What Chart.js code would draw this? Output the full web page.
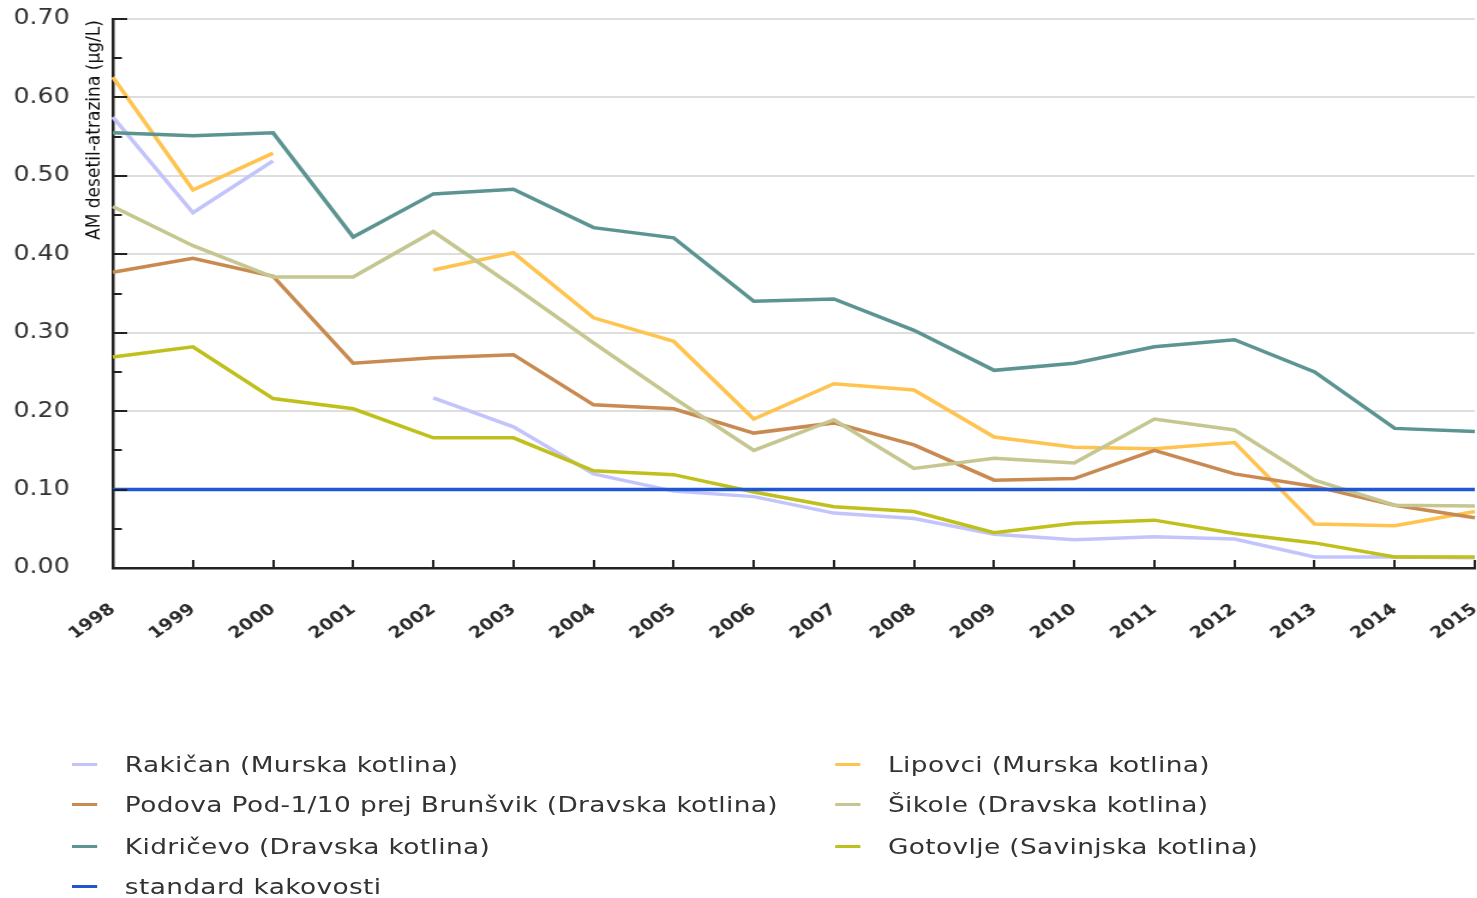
<!DOCTYPE html>
<html>
<head>
<meta charset="utf-8">
<script src="https://cdn.jsdelivr.net/npm/chart.js@4/dist/chart.umd.min.js"></script>
<style>
  html, body { margin: 0; padding: 0; background: #fff; overflow: hidden; }
  /* the source picture is stretched sideways, so the whole chart is drawn narrow and widened */
  #wrap { position: relative; width: 1231px; height: 898px; transform: scaleX(1.2); transform-origin: 0 0; }
  #chart { position: absolute; left: 0; top: 0; }
  #legend { position: absolute; left: 0; top: 0; width: 1231px; height: 898px;
            font-family: "DejaVu Sans", sans-serif; font-size: 22px; letter-spacing: 0.3px; color: #333; }
  .item { position: absolute; height: 30px; line-height: 30px; white-space: nowrap; }
  .mark { position: absolute; top: 13px; width: 21px; height: 3px; }
</style>
</head>
<body>
<div id="wrap">
  <canvas id="chart" width="1231" height="898"></canvas>
  <div id="legend"></div>
</div>
<script>
// years on the x axis
const years = ['1998', '1999', '2000', '2001', '2002', '2003', '2004', '2005', '2006',
               '2007', '2008', '2009', '2010', '2011', '2012', '2013', '2014', '2015'];

// AM desetil-atrazina, µg/L, per site
const rakican   = [0.575, 0.453, 0.519, null, 0.217, 0.180, 0.120, 0.098, 0.091, 0.070, 0.063, 0.043, 0.036, 0.040, 0.037, 0.014, 0.014, 0.013];
const lipovci   = [0.626, 0.482, 0.529, null, 0.380, 0.402, 0.319, 0.289, 0.190, 0.235, 0.227, 0.167, 0.154, 0.152, 0.160, 0.056, 0.054, 0.072];
const podova    = [0.377, 0.395, 0.372, 0.261, 0.268, 0.272, 0.208, 0.203, 0.172, 0.185, 0.157, 0.112, 0.114, 0.150, 0.120, 0.104, 0.080, 0.064];
const sikole    = [0.461, 0.411, 0.371, 0.371, 0.429, 0.359, 0.287, 0.217, 0.150, 0.189, 0.127, 0.140, 0.134, 0.190, 0.176, 0.112, 0.080, 0.079];
const kidricevo = [0.555, 0.551, 0.555, 0.422, 0.477, 0.483, 0.434, 0.421, 0.340, 0.343, 0.303, 0.252, 0.261, 0.282, 0.291, 0.250, 0.178, 0.174];
const gotovlje  = [0.269, 0.282, 0.216, 0.203, 0.166, 0.166, 0.124, 0.119, 0.097, 0.078, 0.072, 0.045, 0.057, 0.061, 0.044, 0.032, 0.014, 0.014];
const standard  = [0.1, 0.1, 0.1, 0.1, 0.1, 0.1, 0.1, 0.1, 0.1, 0.1, 0.1, 0.1, 0.1, 0.1, 0.1, 0.1, 0.1, 0.1];

const yTitle = 'AM desetil-atrazina (µg/L)';

function line(label, data, color, order) {
  return {
    label: label,
    data: data,
    borderColor: color,
    backgroundColor: color,
    borderWidth: 3.5,
    pointRadius: 0,
    tension: 0,
    spanGaps: false,
    fill: false,
    order: order
  };
}

// legend is read row by row: left column then right column
const datasets = [
  line('Rakičan (Murska kotlina)', rakican, '#c4c4fc', 6),
  line('Lipovci (Murska kotlina)', lipovci, '#ffc34f', 5),
  line('Podova Pod-1/10 prej Brunšvik (Dravska kotlina)', podova, '#c98a52', 4),
  line('Šikole (Dravska kotlina)', sikole, '#c6c690', 3),
  line('Kidričevo (Dravska kotlina)', kidricevo, '#5b9491', 2),
  line('Gotovlje (Savinjska kotlina)', gotovlje, '#c0c01c', 1),
  line('standard kakovosti', standard, '#2158d2', 0)
];

// tick marks point into the plot, y title sits between labels and axis
const innerTicks = {
  id: 'innerTicks',
  afterDraw(chart) {
    const { ctx, chartArea, scales: { x, y } } = chart;
    ctx.save();
    ctx.strokeStyle = '#222';
    ctx.lineWidth = 2;
    ctx.beginPath();
    y.ticks.forEach(t => {
      const py = Math.round(y.getPixelForValue(t.value));
      const len = Math.round(t.value * 100) % 10 === 0 ? 12 : 7.5;
      ctx.moveTo(chartArea.left, py);
      ctx.lineTo(chartArea.left + len, py);
    });
    x.ticks.forEach((t, i) => {
      const px = Math.round(x.getPixelForTick(i));
      ctx.moveTo(px, chartArea.bottom);
      ctx.lineTo(px, chartArea.bottom - 8);
    });
    ctx.stroke();

    ctx.translate(chartArea.left - 15, 240);
    ctx.rotate(-Math.PI / 2);
    ctx.font = '16px "DejaVu Sans"';
    const w = ctx.measureText(yTitle).width;
    ctx.scale(220 / w, 1);
    ctx.fillStyle = '#111';
    ctx.textAlign = 'left';
    ctx.textBaseline = 'middle';
    ctx.fillText(yTitle, 0, 0);
    ctx.restore();
  }
};

function noPadding(scale) {
  scale.paddingTop = 0;
  scale.paddingBottom = 0;
  scale.paddingLeft = 0;
  scale.paddingRight = 0;
}

const chart = new Chart(document.getElementById('chart'), {
  type: 'line',
  data: { labels: years, datasets: datasets },
  plugins: [innerTicks],
  options: {
    responsive: false,
    animation: false,
    devicePixelRatio: 1,
    layout: { padding: { top: 19, right: 2, bottom: 230, left: 0 } },
    plugins: {
      legend: { display: false },
      tooltip: { enabled: false }
    },
    scales: {
      x: {
        offset: false,
        grid: { display: false, drawTicks: false },
        border: { display: true, color: '#222', width: 2.5 },
        afterFit: (scale) => { scale.height = 100; noPadding(scale); },
        ticks: {
          autoSkip: false,
          minRotation: 40,
          maxRotation: 40,
          padding: 32,
          color: '#2a2a2a',
          font: { family: 'DejaVu Sans', size: 16, weight: 'bold' }
        }
      },
      y: {
        min: 0,
        max: 0.7,
        afterFit: (scale) => { scale.width = 94; noPadding(scale); },
        grid: {
          drawTicks: false,
          lineWidth: 2,
          color: (c) => (c.tick && Math.round(c.tick.value * 100) % 10 === 0) ? '#dedede' : 'rgba(0,0,0,0)'
        },
        border: { display: true, color: '#222', width: 2.5 },
        ticks: {
          stepSize: 0.05,
          autoSkip: false,
          padding: 36,
          color: '#333',
          font: { family: 'DejaVu Sans', size: 21 },
          callback: (v) => Math.round(v * 100) % 10 === 0 ? Number(v).toFixed(2) : ''
        }
      }
    }
  }
});

// html legend built from the datasets, two columns
const legendEl = document.getElementById('legend');
const rowsY = [765, 805, 847, 887];
const colX = [60, 696];
datasets.forEach((ds, i) => {
  const row = Math.floor(i / 2);
  const col = i % 2;
  const item = document.createElement('div');
  item.className = 'item';
  item.style.left = colX[col] + 'px';
  item.style.top = (rowsY[row] - 15) + 'px';
  item.style.paddingLeft = '44px';
  const mark = document.createElement('span');
  mark.className = 'mark';
  mark.style.left = '0px';
  mark.style.background = ds.borderColor;
  item.appendChild(mark);
  item.appendChild(document.createTextNode(ds.label));
  legendEl.appendChild(item);
});
</script>
</body>
</html>
